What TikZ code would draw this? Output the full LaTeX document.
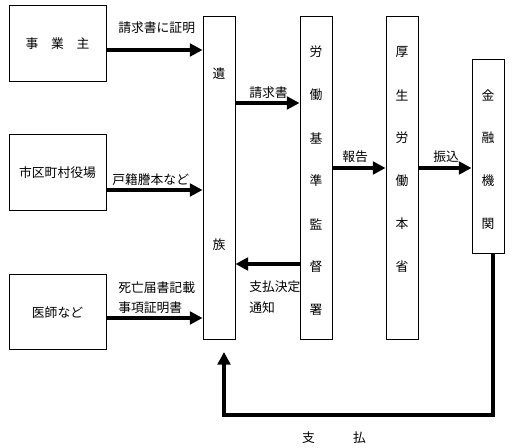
\documentclass[tikz,border=0pt]{standalone}
\usepackage{fontspec}
\newfontfamily\jpfont{Noto Sans CJK JP}
\usetikzlibrary{arrows.meta}

\begin{document}
\begin{tikzpicture}[x=0.75pt,y=-0.75pt,font=\jpfont\fontsize{9.6}{11}\selectfont,
    box/.style={draw,line width=0.75pt,inner sep=0pt},
    arr/.style={line width=2.5pt,-{Triangle[length=9.5pt,width=9.5pt]}},
    lbl/.style={inner sep=0pt,anchor=west}]
    % Define the sizes of the boxes
    \def\px{0.75pt}
    \def\sidew{97}
    \def\tallw{32}
    \def\tallh{323}
    \def\chardist{43}
    \useasboundingbox (0,0) rectangle (514,448);

    % Draw the boxes on the left
    \node[box,minimum width=\sidew*\px,minimum height=76*\px] (jigyo) at (57.5,44) {事　業　主};
    \node[box,minimum width=\sidew*\px,minimum height=76*\px] (shichoson) at (57.5,173) {市区町村役場};
    \node[box,minimum width=\sidew*\px,minimum height=75*\px] (ishi) at (57.5,312.5) {医師など};

    % Draw the tall boxes
    \node[box,minimum width=\tallw*\px,minimum height=\tallh*\px] (izoku) at (219,178.5) {};
    \node[box,minimum width=\tallw*\px,minimum height=\tallh*\px] (kantoku) at (316,178.5) {};
    \node[box,minimum width=\tallw*\px,minimum height=\tallh*\px] (honsho) at (402,178.5) {};
    \node[box,minimum width=\tallw*\px,minimum height=194*\px] (kinyu) at (488,157) {};

    % Write the names down the tall boxes
    \node (izoku-1) at (219,74) {遺};
    \node (izoku-2) at (219,245) {族};
    \foreach \c [count=\i] in {労,働,基,準,監,督,署}
      \node (kantoku-\i) at (316,52+\chardist*\i-\chardist) {\c};
    \foreach \c [count=\i] in {厚,生,労,働,本,省}
      \node (honsho-\i) at (402,52+\chardist*\i-\chardist) {\c};
    \foreach \c [count=\i] in {金,融,機,関}
      \node (kinyu-\i) at (488,95+\chardist*\i-\chardist) {\c};

    % Add arrows into the family box
    \draw[arr] (jigyo.east |- 0,50) -- (izoku.west |- 0,50);
    \draw[arr] (shichoson.east |- 0,190) -- (izoku.west |- 0,190);
    \draw[arr] (ishi.east |- 0,318) -- (izoku.west |- 0,318);
    \node[lbl] (shomei) at (118,28) {請求書に証明};
    \node[lbl] (koseki) at (112,180) {戸籍謄本など};
    \node[lbl] (shibo) at (118,288) {死亡届書記載};
    \node[lbl] (jiko) at (118,308) {事項証明書};

    % Add arrows between the tall boxes
    \draw[arr] (izoku.east |- 0,103) -- (kantoku.west |- 0,103);
    \draw[arr] (kantoku.west |- 0,264) -- (izoku.east |- 0,264);
    \draw[arr] (kantoku.east |- 0,168) -- (honsho.west |- 0,168);
    \draw[arr] (honsho.east |- 0,168) -- (kinyu.west |- 0,168);
    \node[lbl] (seikyu) at (249,93) {請求書};
    \node[lbl] (kettei) at (249,287) {支払決定};
    \node[lbl] (tsuchi) at (249,308) {通知};
    \node[lbl] (hokoku) at (342,157) {報告};
    \node[lbl] (furikomi) at (433,157) {振込};

    % Payment back to the family
    \coordinate (pay) at (224,415);
    \draw[arr] (kinyu.south -| 493,0) |- (pay) -- (224,352);
    \node (shiharai) at (334,438) {支　　　払};
\end{tikzpicture}
\end{document}
